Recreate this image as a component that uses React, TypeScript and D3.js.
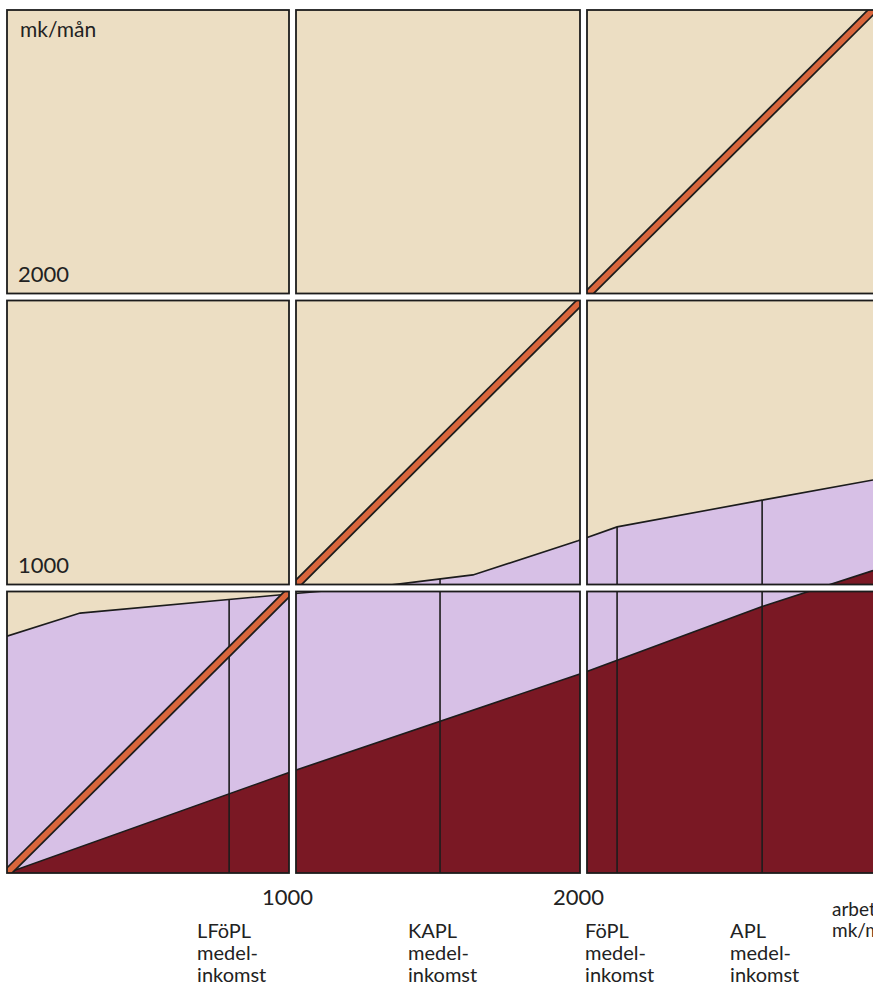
import { area, line, scaleLinear } from 'd3';

const width = 873;
const height = 987;
const gap = 3.5;

// grid breaks in mk/mån (both axes)
const breaks = [0, 1000, 2000, 3000];
const xTicks = [1000, 2000];
const yTicks = [1000, 2000];

// upper boundary (total pension) in mk/mån
const upperX = [0, 256, 1000, 1335, 1620, 1981, 2116, 2617, 3000];
const upperY = [831, 912, 980, 1010, 1045, 1162, 1210, 1302, 1371];

// lower boundary (dark red area)
const lowerX = [0, 1000, 2000, 2617, 3000];
const lowerY = [0, 357, 703, 935, 1060];

// 100 % line
const diagonal = [0, 3000];

const markerNames = ['LFöPL', 'KAPL', 'FöPL', 'APL'];
const markerIncome = [778, 1507, 2116, 2617];
const markerSub = ['medel-', 'inkomst'];

const yUnit = 'mk/mån';
const xUnit = ['arbetsinkomst', 'mk/mån'];

const colors = {
	beige: '#ecdec3',
	purple: '#d7c0e6',
	red: '#7a1824',
	orange: '#d9663c',
	ink: '#1c1c1c',
	text: '#222',
};

const font = 'Lato, "Open Sans", sans-serif';

const App = () => {
	const xScale = scaleLinear().domain(breaks).range([7, 292.5, 583.5, 873]);
	const yScale = scaleLinear().domain(breaks).range([873, 588, 297, 10]);
	const upperAt = scaleLinear().domain(upperX).range(upperY);

	const upperPts = upperX.map((d, i) => [d, upperY[i]] as [number, number]);
	const lowerPts = lowerX.map((d, i) => [d, lowerY[i]] as [number, number]);

	const fillArea = area<[number, number]>()
		.x(d => xScale(d[0]))
		.y0(yScale(0))
		.y1(d => yScale(d[1]));
	const edge = line<[number, number]>()
		.x(d => xScale(d[0]))
		.y(d => yScale(d[1]));

	const diag = edge(diagonal.map(d => [d, d] as [number, number])) || '';

	const left = xScale(0);
	const bottom = yScale(0);
	const top = yScale(3000);
	const right = width + 20;

	const cols = [0, 1, 2].map(i => ({
		x0: i === 0 ? left : xScale(breaks[i]) + gap,
		x1: i === 2 ? right : xScale(breaks[i + 1]) - gap,
	}));
	const rows = [0, 1, 2].map(j => ({
		y0: j === 2 ? top : yScale(breaks[j + 1]) + gap,
		y1: j === 0 ? bottom : yScale(breaks[j]) - gap,
	}));

	return (
		<svg
			width={width}
			height={height}
			style={{ position: 'absolute', left: 0, top: 0, background: '#fff' }}
		>
			<defs>
				<clipPath id="chart">
					<rect x={left} y={top} width={right - left} height={bottom - top} />
				</clipPath>
			</defs>
			<g clipPath="url(#chart)">
				<rect
					x={left}
					y={top}
					width={right - left}
					height={bottom - top}
					fill={colors.beige}
				/>
				<path d={fillArea(upperPts) || ''} fill={colors.purple} />
				<path d={fillArea(lowerPts) || ''} fill={colors.red} />
				<path
					d={edge(upperPts) || ''}
					fill="none"
					stroke={colors.ink}
					strokeWidth={1.6}
				/>
				<path
					d={edge(lowerPts) || ''}
					fill="none"
					stroke={colors.ink}
					strokeWidth={1.6}
				/>
				{markerIncome.map(m => (
					<line
						key={m}
						x1={xScale(m)}
						x2={xScale(m)}
						y1={yScale(upperAt(m))}
						y2={bottom}
						stroke={colors.ink}
						strokeWidth={1.6}
					/>
				))}
				<path d={diag} fill="none" stroke={colors.ink} strokeWidth={9} />
				<path d={diag} fill="none" stroke={colors.orange} strokeWidth={5.5} />
				{/* white gaps between the panels */}
				{xTicks.map(t => (
					<rect
						key={'v' + t}
						x={xScale(t) - gap}
						y={top - 5}
						width={gap * 2}
						height={bottom - top + 10}
						fill="#fff"
					/>
				))}
				{yTicks.map(t => (
					<rect
						key={'h' + t}
						x={left - 5}
						y={yScale(t) - gap}
						width={right - left + 10}
						height={gap * 2}
						fill="#fff"
					/>
				))}
			</g>
			{rows.map((r, j) =>
				cols.map((c, i) => (
					<rect
						key={`${i}-${j}`}
						x={c.x0}
						y={r.y0}
						width={c.x1 - c.x0}
						height={r.y1 - r.y0}
						fill="none"
						stroke={colors.ink}
						strokeWidth={1.8}
					/>
				)),
			)}
			<g fontFamily={font} fill={colors.text}>
				<text x={20} y={37} fontSize={21}>
					{yUnit}
				</text>
				{yTicks.map(t => (
					<text key={t} x={18} y={yScale(t) - 15} fontSize={22}>
						{t}
					</text>
				))}
				{xTicks.map(t => (
					<text
						key={t}
						x={xScale(t) - 5}
						y={905}
						fontSize={22}
						textAnchor="middle"
					>
						{t}
					</text>
				))}
				{markerNames.map((name, i) =>
					[name, ...markerSub].map((s, k) => (
						<text
							key={name + s}
							x={xScale(markerIncome[i]) - 32}
							y={938 + 22 * k}
							fontSize={20}
						>
							{s}
						</text>
					)),
				)}
				{xUnit.map((s, k) => (
					<text key={s} x={832} y={916 + 21 * k} fontSize={19}>
						{s}
					</text>
				))}
			</g>
		</svg>
	);
};

export default App;
